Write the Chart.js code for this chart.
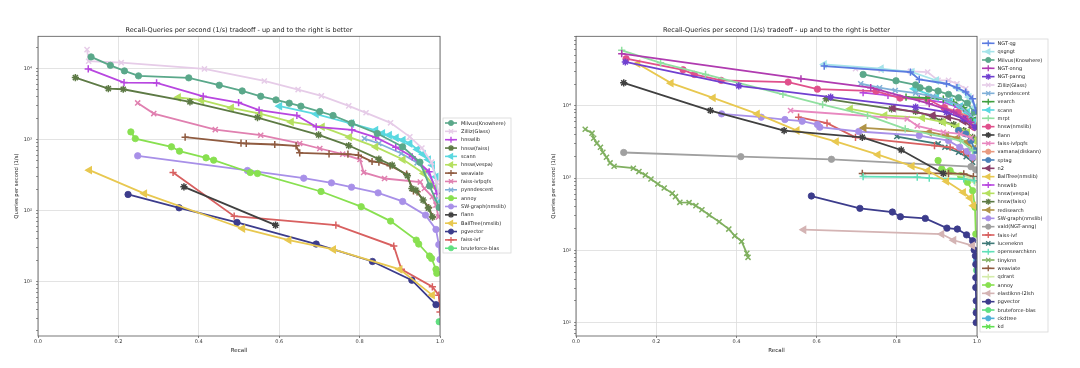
<!DOCTYPE html>
<html>
<head>
<meta charset="utf-8">
<script src="https://cdn.jsdelivr.net/npm/chart.js@4.4.1/dist/chart.umd.min.js"></script>
<style>
  html, body { margin: 0; padding: 0; background: #fff; }
  #wrap { position: relative; width: 1080px; height: 368px; }
  canvas { position: absolute; top: 0; }
</style>
</head>
<body>
<div id="wrap">
  <canvas id="left" width="540" height="368" style="left:0"></canvas>
  <canvas id="right" width="540" height="368" style="left:540px"></canvas>
</div>
<script>
// ---- shared tick labels ----
const titleText = 'Recall-Queries per second (1/s) tradeoff - up and to the right is better';
const xTickLabels = ['0.0', '0.2', '0.4', '0.6', '0.8', '1.0'];
const yMajor = [10, 100, 1000, 10000];
const yMajorLabels = ['10\u00b9', '10\u00b2', '10\u00b3', '10\u2074'];

// ---- left panel: [recall, qps] ----
const L_milvus = [[0.132,14600],[0.180,11100],[0.215,9270],[0.250,7890],[0.375,7400],[0.451,5820],[0.508,4840],[0.554,4070],[0.592,3620],[0.625,3250],[0.654,2950],[0.701,2480],[0.734,2180],[0.780,1700],[0.844,1215],[0.907,789],[0.950,480],[0.974,222],[0.998,110]];
const L_zilliz = [[0.122,18500],[0.126,12700],[0.207,12100],[0.414,9890],[0.563,6690],[0.647,5060],[0.705,4120],[0.773,2980],[0.816,2380],[0.877,1720],[0.925,1090],[0.955,760],[0.979,480],[0.992,250],[0.998,150]];
const L_hnswlib = [[0.125,9890],[0.214,6350],[0.295,6280],[0.411,4070],[0.499,3320],[0.550,2590],[0.644,2180],[0.692,1510],[0.781,1370],[0.840,1070],[0.890,780],[0.931,570],[0.973,351],[0.992,173]];
const L_hnswfaiss = [[0.093,7470],[0.175,5220],[0.212,5110],[0.378,3400],[0.546,2040],[0.698,1160],[0.773,822],[0.848,528],[0.881,435],[0.919,308],[0.930,204],[0.940,193],[0.958,140],[0.971,108],[0.981,81]];
const L_scann = [[0.601,2950],[0.692,2280],[0.780,1680],[0.840,1350],[0.857,1215],[0.874,1150],[0.891,1055],[0.908,979],[0.925,879],[0.944,723],[0.958,621],[0.971,522],[0.981,435],[0.990,298],[0.996,140]];
const L_vespa = [[0.349,3910],[0.407,3580],[0.481,2790],[0.552,2320],[0.630,1770],[0.707,1510],[0.775,1080],[0.840,789],[0.908,522],[0.960,332],[0.987,215]];
const L_weaviate = [[0.366,1080],[0.505,887],[0.518,879],[0.589,851],[0.642,815],[0.651,649],[0.724,628],[0.771,621],[0.797,601],[0.831,490],[0.848,480],[0.876,426],[0.917,325],[0.934,189],[0.943,183],[0.972,110],[0.982,81]];
const L_ivfpqfs = [[0.248,3280],[0.288,2320],[0.441,1380],[0.554,1150],[0.651,879],[0.701,747],[0.758,621],[0.801,522],[0.810,343],[0.862,282],[0.951,251],[0.961,204],[0.981,156],[0.990,119],[0.996,81]];
const L_pynn = [[0.812,1030],[0.848,879],[0.904,635],[0.943,469],[0.968,351],[0.987,228],[0.996,140]];
const L_annoy = [[0.231,1280],[0.242,1030],[0.332,789],[0.352,686],[0.418,552],[0.437,512],[0.528,343],[0.546,332],[0.704,185],[0.804,113],[0.877,70.8],[0.941,38.2],[0.947,33.6],[0.974,22.8],[0.979,21.1],[0.990,14.8],[0.992,13.0]];
const L_swgraph = [[0.248,589],[0.521,366],[0.661,285],[0.730,245],[0.780,213],[0.846,177],[0.907,134],[0.964,86],[0.990,54],[0.997,33],[1.0,20.4]];
const L_flann = [[0.363,215],[0.591,62]];
const L_balltree = [[0.128,370],[0.265,173],[0.509,55.7],[0.624,38.2],[0.735,28.2],[0.900,14.8],[0.981,6.4]];
const L_pgvector = [[0.224,168],[0.351,109],[0.495,67.8],[0.692,33.6],[0.832,19.1],[0.930,10.4],[0.990,4.7]];
const L_ivf = [[0.336,343],[0.488,83],[0.741,62],[0.885,31.5],[0.904,14.8],[0.981,8.4],[0.997,6.4],[1.0,3.7]];
const L_brute = [[0.998,2.7]];

const leftNames = ['Milvus(Knowhere)','Zilliz(Glass)','hnswlib','hnsw(faiss)','scann','hnsw(vespa)','weaviate','faiss-ivfpqfs','pynndescent','annoy','SW-graph(nmslib)','flann','BallTree(nmslib)','pgvector','faiss-ivf','bruteforce-blas'];
const leftData = [L_milvus, L_zilliz, L_hnswlib, L_hnswfaiss, L_scann, L_vespa, L_weaviate, L_ivfpqfs, L_pynn, L_annoy, L_swgraph, L_flann, L_balltree, L_pgvector, L_ivf, L_brute];
const leftColors = ['#5aa88a','#e6cce8','#b847e0','#5d7a45','#5ad8e0','#b5e060','#8f5b40','#e080b0','#80b0d8','#88e050','#a890e8','#404040','#e8c850','#3c3c8c','#d86060','#60e080'];
const leftMarkers = ['o','x','+','*','<','<','+','x','x','o','o','*','<','o','+','o'];

// ---- right panel: [recall, qps] ----
const R_ngtqg = [[0.619,35500],[0.834,29300],[0.856,23200],[0.924,20200],[0.950,17800],[0.972,15500],[0.989,12500],[0.997,8610]];
const R_qsgngt = [[0.619,37400],[0.761,32600],[0.838,29300],[0.899,22400],[0.950,17800],[0.980,13200],[0.996,9590]];
const R_milvus = [[0.716,27200],[0.798,22200],[0.847,19500],[0.858,17800],[0.880,17000],[0.903,16000],[0.929,14400],[0.954,12900],[0.976,10900],[0.993,8170]];
const R_ngtonng = [[0.114,52600],[0.561,23700],[0.735,17800],[0.881,10700],[0.942,8170],[0.985,5930]];
const R_ngtpanng = [[0.123,40400],[0.406,18900],[0.635,13200],[0.847,9590],[0.924,8170],[0.967,6600],[0.995,5060]];
const R_zilliz = [[0.697,32600],[0.761,31500],[0.834,29900],[0.877,29300],[0.903,22500],[0.929,22500],[0.950,20200],[0.972,17200],[0.986,13200],[0.997,8610]];
const R_pynn = [[0.710,20200],[0.757,17800],[0.796,16300],[0.847,15000],[0.890,13500],[0.929,11900],[0.959,9790],[0.985,7350]];
const R_vearch = [[0.823,13200],[0.873,12900],[0.916,12400],[0.942,11200],[0.967,9390],[0.989,6820]];
const R_scann = [[0.843,17200],[0.899,13200],[0.933,11500],[0.959,9790],[0.976,8170],[0.991,6270]];
const R_mrpt = [[0.114,58500],[0.211,39400],[0.323,27200],[0.516,14400],[0.615,10400],[0.727,7350],[0.821,4800],[0.959,3300],[0.989,2400]];
const R_hnswnms = [[0.125,44900],[0.267,31500],[0.295,27200],[0.362,22500],[0.529,21300],[0.602,17000],[0.748,16000],[0.808,12800],[0.877,12300],[0.918,9390],[0.952,8090],[0.976,6820],[0.993,5060]];
const R_flann = [[0.119,20800],[0.335,8610],[0.519,4550],[0.714,3670],[0.811,2450],[0.916,1160]];
const R_ivfpqfs = [[0.535,8610],[0.826,6600],[0.851,5280],[0.916,4310],[0.959,4090],[0.985,3600]];
const R_vamana = [[0.920,9390],[0.954,8340],[0.976,7110],[0.991,5620]];
const R_sptag = [[0.954,4550],[0.972,4090],[0.985,3300],[0.995,2400]];
const R_n2 = [[0.791,9290],[0.890,7350],[0.929,6960],[0.967,6120],[0.989,5060]];
const R_balltree = [[0.154,38300],[0.237,20600],[0.342,12900],[0.452,7740],[0.551,4550],[0.649,3200],[0.753,2110],[0.838,1460],[0.877,1270],[0.924,902],[0.966,635],[0.983,530],[0.991,415]];
const R_hnswlib = [[0.716,15200],[0.778,13900],[0.856,12500],[0.916,11200],[0.952,9590],[0.976,7740],[0.995,5620]];
const R_vespa = [[0.684,9090],[0.770,7350],[0.864,6820],[0.916,5930],[0.950,5160],[0.976,4310],[0.993,3300]];
const R_hnswfaiss = [[0.624,12500],[0.787,9090],[0.847,8340],[0.890,7110],[0.912,6120],[0.942,5510],[0.967,4550],[0.989,3670]];
const R_redis = [[0.718,4950],[0.881,4310],[0.924,3880],[0.952,3600],[0.976,3130],[0.991,2540]];
const R_swgraph = [[0.363,7740],[0.462,6960],[0.521,6460],[0.564,6120],[0.602,5510],[0.608,5060],[0.705,4410],[0.856,3880],[0.929,3300],[0.957,2670],[0.976,2350],[0.989,1940]];
const R_vald = [[0.119,2260],[0.411,1980],[0.637,1820],[0.985,1440],[0.997,1300]];
const R_ivf = [[0.555,6960],[0.626,5750],[0.697,3670],[0.894,2820],[0.933,2670],[0.967,2280],[0.989,1840]];
const R_lucene = [[0.800,3760],[0.903,2970],[0.920,2670],[0.954,2280],[0.973,1980],[0.989,1660]];
const R_opensearch = [[0.716,1050],[0.851,1030],[0.881,1000],[0.967,972],[0.993,921]];
const R_tinyknn = [[0.023,4740],[0.040,4180],[0.044,3560],[0.052,3040],[0.061,2670],[0.067,2280],[0.076,1940],[0.085,1620],[0.095,1460],[0.143,1370],[0.157,1230],[0.173,1100],[0.187,972],[0.204,829],[0.220,729],[0.240,615],[0.248,553],[0.259,462],[0.282,457],[0.299,415],[0.314,365],[0.332,308],[0.357,249],[0.381,197],[0.396,159],[0.413,133],[0.426,91],[0.429,80]];
const R_weaviate = [[0.714,1160],[0.929,1160],[0.967,1140],[0.991,1050]];
const R_qdrant = [[0.924,1160],[0.976,1050],[0.995,873]];
const R_annoy = [[0.903,1750],[0.912,1340],[0.933,1270],[0.959,1080],[0.976,873],[0.989,670],[0.995,394],[0.997,168]];
const R_elastiknn = [[0.568,193],[0.912,168],[0.942,138],[0.989,116]];
const R_pgvector = [[0.587,565],[0.708,381],[0.789,339],[0.809,292],[0.871,277],[0.925,203],[0.951,197],[0.974,164],[0.989,136],[0.993,101],[0.996,84],[0.997,64],[0.997,42],[0.997,30.6],[0.998,20],[0.998,13.7],[0.998,10]];
const R_brute = [[0.999,53]];
const R_ckdtree = [[0.999,72]];
const R_kd = [[0.998,14.5]];

const rightNames = ['NGT-qg','qsgngt','Milvus(Knowhere)','NGT-onng','NGT-panng','Zilliz(Glass)','pynndescent','vearch','scann','mrpt','hnsw(nmslib)','flann','faiss-ivfpqfs','vamana(diskann)','sptag','n2','BallTree(nmslib)','hnswlib','hnsw(vespa)','hnsw(faiss)','redisearch','SW-graph(nmslib)','vald(NGT-anng)','faiss-ivf','luceneknn','opensearchknn','tinyknn','weaviate','qdrant','annoy','elastiknn-l2lsh','pgvector','bruteforce-blas','ckdtree','kd'];
const rightData = [R_ngtqg, R_qsgngt, R_milvus, R_ngtonng, R_ngtpanng, R_zilliz, R_pynn, R_vearch, R_scann, R_mrpt, R_hnswnms, R_flann, R_ivfpqfs, R_vamana, R_sptag, R_n2, R_balltree, R_hnswlib, R_vespa, R_hnswfaiss, R_redis, R_swgraph, R_vald, R_ivf, R_lucene, R_opensearch, R_tinyknn, R_weaviate, R_qdrant, R_annoy, R_elastiknn, R_pgvector, R_brute, R_ckdtree, R_kd];
const rightColors = ['#5b7be0','#a6e4ea','#5aa88a','#b03bb0','#7040d0','#e6cce8','#80b0d8','#3f9f3f','#5ad8e0','#90e0a0','#e0508c','#404040','#e888c0','#e89a80','#4a80b8','#8a3f6a','#e8c850','#b847e0','#b5e060','#5d7a45','#b09448','#a890e8','#a0a0a0','#d86060','#3f7a78','#60e0b8','#80b060','#8f5b40','#d4ecaa','#88e050','#d4b4b4','#3c3c8c','#60e080','#50b0d8','#60e050'];
const rightMarkers = ['+','<','o','+','*','x','x','+','<','+','o','*','x','o','o','<','<','+','<','*','<','o','o','+','x','+','x','+','+','o','<','o','o','o','x'];

const FONT = 'DejaVu Sans';
const styleOf = { 'o': 'circle', '+': 'cross', 'x': 'crossRot', '<': 'triangle', '*': 'star' };

function makeSet(name, pts, color, marker) {
  return {
    label: name,
    data: pts.map(p => ({ x: p[0], y: p[1] })),
    showLine: true,
    borderColor: color,
    backgroundColor: color,
    borderWidth: 1.8,
    tension: 0,
    fill: false,
    pointStyle: styleOf[marker],
    pointRotation: marker === '<' ? -90 : 0,
    pointRadius: marker === 'o' ? 3.2 : 3.6,
    pointBorderWidth: marker === 'o' ? 0.8 : 1.5,
    pointBackgroundColor: color,
    pointBorderColor: color
  };
}

// box around the plot, like matplotlib's axes frame
const framePlugin = {
  id: 'frame',
  afterDraw(chart) {
    const { ctx, chartArea: a } = chart;
    ctx.save();
    ctx.strokeStyle = '#555';
    ctx.lineWidth = 0.8;
    ctx.strokeRect(a.left, a.top, a.right - a.left, a.bottom - a.top);
    ctx.restore();
  }
};

// legend box with line + marker samples
function legendPlugin(names, colors, markers, g) {
  return {
    id: 'boxLegend',
    afterDraw(chart) {
      const ctx = chart.ctx;
      ctx.save();
      ctx.fillStyle = 'rgba(255,255,255,0.85)';
      ctx.fillRect(g.x, g.y, g.w, g.h);
      ctx.strokeStyle = '#d8d8d8';
      ctx.lineWidth = 0.8;
      ctx.strokeRect(g.x, g.y, g.w, g.h);
      ctx.font = g.font + 'px ' + FONT;
      ctx.textBaseline = 'middle';
      names.forEach((n, i) => {
        const y = g.row0 + i * g.step;
        ctx.strokeStyle = colors[i];
        ctx.fillStyle = colors[i];
        ctx.lineWidth = 1.6;
        ctx.beginPath();
        ctx.moveTo(g.l0, y);
        ctx.lineTo(g.l1, y);
        ctx.stroke();
        ctx.lineWidth = markers[i] === 'o' ? 0.8 : 1.3;
        Chart.helpers.drawPoint(ctx, {
          pointStyle: styleOf[markers[i]],
          radius: markers[i] === 'o' ? 2.6 : 3,
          rotation: markers[i] === '<' ? -90 : 0,
          borderWidth: ctx.lineWidth
        }, (g.l0 + g.l1) / 2, y);
        ctx.fillStyle = '#222';
        ctx.fillText(n, g.tx, y + 0.3);
      });
      ctx.restore();
    }
  };
}

function buildChart(id, names, data, colors, markers, cfg) {
  const datasets = names.map((n, i) => makeSet(n, data[i], colors[i], markers[i]));
  return new Chart(document.getElementById(id), {
    type: 'scatter',
    data: { datasets },
    options: {
      responsive: false,
      devicePixelRatio: 1,
      animation: false,
      events: [],
      layout: { padding: { left: 0, right: cfg.padRight, top: 0, bottom: 0 } },
      plugins: {
        legend: { display: false },
        tooltip: { enabled: false },
        title: {
          display: true,
          text: titleText,
          fullSize: false,
          color: '#222',
          font: { family: FONT, size: 6.5, weight: 'normal' },
          padding: { top: 26, bottom: 2.5 }
        }
      },
      scales: {
        x: {
          type: 'linear',
          min: 0,
          max: 1,
          afterFit: s => { s.height = 32; },
          ticks: {
            stepSize: 0.2,
            color: '#333',
            padding: 1,
            font: { family: FONT, size: 5 },
            callback: (v, i) => xTickLabels[i]
          },
          grid: { color: '#dcdcdc', lineWidth: 0.8, tickColor: '#666', tickLength: 2 },
          border: { display: false },
          title: {
            display: true,
            text: 'Recall',
            color: '#222',
            font: { family: FONT, size: 5.5 },
            padding: { top: 0, bottom: 13.7 }
          }
        },
        y: {
          type: 'logarithmic',
          min: cfg.yMin,
          max: cfg.yMax,
          afterFit: s => { s.width = cfg.yWidth; },
          afterBuildTicks: s => {
            const t = [];
            for (let e = 0; e <= 5; e++) {
              for (let m = 1; m <= 9; m++) {
                const v = m * Math.pow(10, e);
                if (v >= s.min && v <= s.max) t.push({ value: v });
              }
            }
            s.ticks = t;
          },
          ticks: {
            autoSkip: false,
            color: '#333',
            padding: cfg.yTickPad,
            font: { family: FONT, size: 5 },
            callback: v => {
              const k = yMajor.indexOf(v);
              return k >= 0 ? yMajorLabels[k] : '';
            }
          },
          grid: {
            color: c => (c.tick && yMajor.includes(c.tick.value)) ? '#dcdcdc' : 'rgba(0,0,0,0)',
            lineWidth: 0.8,
            tickColor: '#777',
            tickLength: 2
          },
          border: { display: false },
          title: {
            display: true,
            text: 'Queries per second (1/s)',
            color: '#222',
            font: { family: FONT, size: 5.3 },
            padding: { top: cfg.yTitlePad, bottom: 0 }
          }
        }
      }
    },
    plugins: [framePlugin, legendPlugin(names, colors, markers, cfg.legend)]
  });
}

buildChart('left', leftNames, leftData, leftColors, leftMarkers, {
  padRight: 100, yWidth: 38, yMin: 1.7, yMax: 28500, yTickPad: 4, yTitlePad: 13,
  legend: { x: 443, y: 118, w: 68, h: 135, row0: 123, step: 8.35, l0: 445, l1: 457, tx: 461, font: 5 }
});

buildChart('right', rightNames, rightData, rightColors, rightMarkers, {
  padRight: 103, yWidth: 36, yMin: 6.53, yMax: 91600, yTickPad: 3, yTitlePad: 10.6,
  legend: { x: 440, y: 39, w: 68, h: 293, row0: 43.3, step: 8.335, l0: 442, l1: 454.5, tx: 457.6, font: 5 }
});
</script>
</body>
</html>
